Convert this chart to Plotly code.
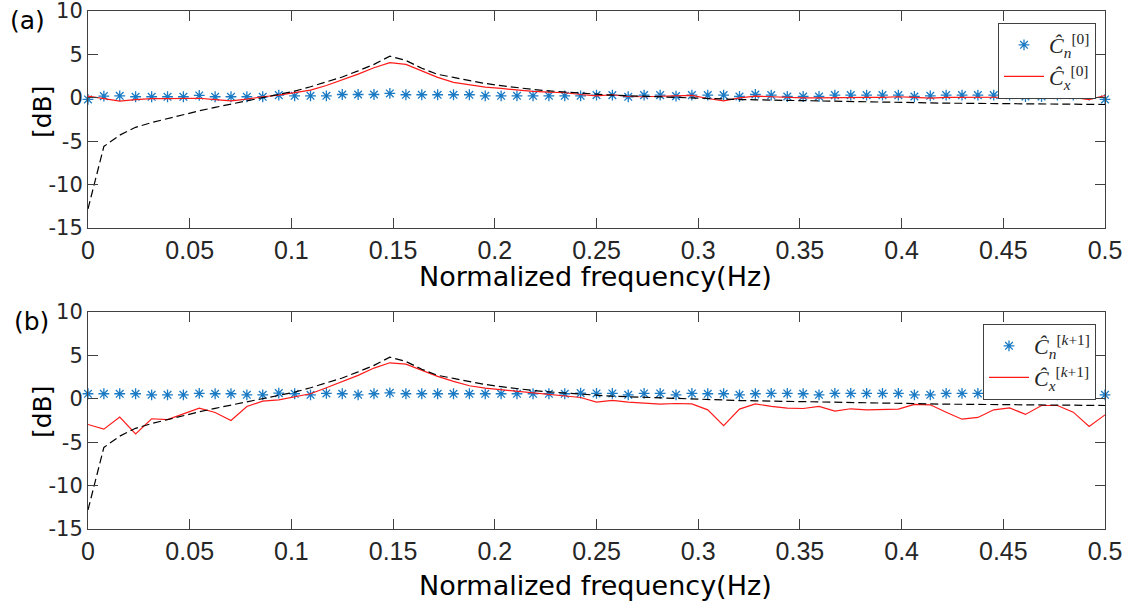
import plotly.graph_objects as go

# ---------------- data ----------------
freq = [0, 0.0078, 0.0156, 0.0234, 0.0313, 0.0391, 0.0469, 0.0547, 0.0625, 0.0703,
        0.0781, 0.0859, 0.0938, 0.1016, 0.1094, 0.1172, 0.125, 0.1328, 0.1406, 0.1484,
        0.1563, 0.1641, 0.1719, 0.1797, 0.1875, 0.1953, 0.2031, 0.2109, 0.2188, 0.2266,
        0.2344, 0.2422, 0.25, 0.2578, 0.2656, 0.2734, 0.2813, 0.2891, 0.2969, 0.3047,
        0.3125, 0.3203, 0.3281, 0.3359, 0.3438, 0.3516, 0.3594, 0.3672, 0.375, 0.3828,
        0.3906, 0.3984, 0.4063, 0.4141, 0.4219, 0.4297, 0.4375, 0.4453, 0.4531, 0.4609,
        0.4688, 0.4766, 0.4844, 0.4922, 0.5]

true_db = [-12.8, -5.6, -4.3, -3.4, -2.85, -2.4, -1.9, -1.5, -1.1, -0.73,
           -0.35, 0.05, 0.4, 0.77, 1.27, 1.8, 2.4, 3.1, 3.85, 4.8,
           4.3, 3.4, 2.7, 2.35, 1.96, 1.65, 1.4, 1.15, 0.96, 0.8,
           0.7, 0.55, 0.42, 0.3, 0.23, 0.15, 0.08, 0.0, -0.05, -0.1,
           -0.15, -0.2, -0.23, -0.27, -0.3, -0.35, -0.38, -0.42, -0.46, -0.5,
           -0.52, -0.54, -0.57, -0.6, -0.62, -0.63, -0.65, -0.67, -0.69, -0.71,
           -0.73, -0.73, -0.75, -0.77, -0.77]

cn0 = [-0.19, 0.19, 0.23, 0.12, 0.12, 0.12, 0.12, 0.27, 0.12, 0.12,
       0.12, 0.12, 0.31, 0.23, 0.23, 0.23, 0.38, 0.38, 0.38, 0.5,
       0.35, 0.35, 0.35, 0.35, 0.35, 0.23, 0.23, 0.23, 0.23, 0.23,
       0.23, 0.23, 0.31, 0.31, 0.12, 0.31, 0.31, 0.19, 0.31, 0.31,
       0.31, 0.15, 0.38, 0.31, 0.15, 0.15, 0.15, 0.31, 0.31, 0.31,
       0.31, 0.31, 0.15, 0.23, 0.31, 0.31, 0.31, 0.31, 0.31, 0.15,
       0.15, 0.31, 0.31, 0.31, -0.19]

cx0 = [0.2, -0.08, -0.38, -0.2, -0.1, -0.1, -0.1, -0.05, -0.2, -0.35,
       -0.15, 0.12, 0.3, 0.58, 0.88, 1.42, 2.04, 2.73, 3.46, 4.04,
       3.85, 3.1, 2.35, 1.77, 1.46, 1.23, 1.08, 0.88, 0.73, 0.65,
       0.58, 0.38, 0.23, 0.35, 0.15, 0.12, 0.19, 0.23, 0.27, -0.08,
       -0.35, 0.0, 0.2, 0.12, 0.04, 0.0, 0.0, 0.04, 0.04, 0.04,
       0.04, 0.12, 0.04, -0.04, 0.04, 0.04, 0.12, 0.12, 0.08, 0.15,
       0.12, 0.12, 0.04, -0.2, 0.27]

cn1 = [0.58, 0.58, 0.58, 0.58, 0.46, 0.46, 0.46, 0.62, 0.58, 0.58,
       0.46, 0.46, 0.65, 0.58, 0.46, 0.62, 0.58, 0.46, 0.58, 0.69,
       0.58, 0.58, 0.58, 0.58, 0.58, 0.58, 0.58, 0.58, 0.58, 0.58,
       0.58, 0.65, 0.62, 0.62, 0.46, 0.62, 0.62, 0.46, 0.62, 0.58,
       0.58, 0.46, 0.58, 0.62, 0.62, 0.58, 0.46, 0.62, 0.62, 0.62,
       0.62, 0.62, 0.46, 0.46, 0.62, 0.62, 0.62, 0.62, 0.62, 0.62,
       0.62, 0.46, 0.62, 0.62, 0.46]

cx1 = [-2.96, -3.5, -2.1, -4.04, -2.3, -2.4, -1.73, -1.08, -1.58, -2.5,
       -0.88, -0.27, -0.12, 0.19, 0.58, 1.27, 1.96, 2.7, 3.54, 4.15,
       4.0, 3.3, 2.58, 2.0, 1.5, 1.23, 1.04, 0.85, 0.65, 0.46,
       0.27, 0.15, -0.38, -0.19, -0.38, -0.5, -0.62, -0.54, -0.58, -1.27,
       -3.1, -1.19, -0.58, -0.88, -1.08, -1.12, -0.88, -1.42, -1.15, -1.27,
       -1.27, -1.19, -0.65, -0.69, -1.54, -2.35, -2.15, -1.27, -1.04, -1.8,
       -0.77, -0.77, -1.54, -3.19, -1.85]

x_tickvals = [0, 0.05, 0.1, 0.15, 0.2, 0.25, 0.3, 0.35, 0.4, 0.45, 0.5]
x_ticktext = ["0", "0.05", "0.1", "0.15", "0.2", "0.25", "0.3", "0.35", "0.4", "0.45", "0.5"]
y_tickvals = [-15, -10, -5, 0, 5, 10]
y_ticktext = ["-15", "-10", "-5", "0", "5", "10"]

legend_top = ["<i>Ĉ</i><sub><i>n</i></sub><sup>[0]</sup>",
              "<i>Ĉ</i><sub><i>x</i></sub><sup>[0]</sup>"]
legend_bot = ["<i>Ĉ</i><sub><i>n</i></sub><sup>[<i>k</i>+1]</sup>",
              "<i>Ĉ</i><sub><i>x</i></sub><sup>[<i>k</i>+1]</sup>"]

# ---------------- style ----------------
W, H = 1128, 603
BLUE = "#1a7ac4"
RED = "#ff1a1a"
AX = "#404040"
xl, xr = 88, 1105          # pixels of plot left/right
top_plot = (11, 228)       # pixels of top plot top/bottom
bot_plot = (312, 529)


def px(p):
    return p / W


def py(p):
    return (H - p) / H


fig = go.Figure()

for (cn, cx, xa, ya, leg, names) in [
    (cn0, cx0, "x", "y", "legend", legend_top),
    (cn1, cx1, "x2", "y2", "legend2", legend_bot),
]:
    fig.add_trace(go.Scatter(
        x=freq, y=cn, mode="markers", name=names[0], xaxis=xa, yaxis=ya, legend=leg,
        marker=dict(symbol="asterisk-open", size=9, color=BLUE, line=dict(color=BLUE, width=1.3)),
        cliponaxis=False))
    fig.add_trace(go.Scatter(
        x=freq, y=cx, mode="lines", name=names[1], xaxis=xa, yaxis=ya, legend=leg,
        line=dict(color=RED, width=1.2)))
    fig.add_trace(go.Scatter(
        x=freq, y=true_db, mode="lines", showlegend=False, xaxis=xa, yaxis=ya,
        line=dict(color="black", width=1.2, dash="8px,4px")))

xfont = dict(family="Liberation Sans, Arial, sans-serif", size=25, color="#262626")
yfont = dict(family="DejaVu Sans, sans-serif", size=21, color="#262626")

common_x = dict(range=[0, 0.5], tickvals=x_tickvals, ticktext=x_ticktext, tickfont=xfont,
                showline=True, linecolor=AX, linewidth=1, mirror="ticks", ticks="inside",
                ticklen=10, tickcolor=AX, showgrid=False, zeroline=False, automargin=False,
                ticklabeloverflow="allow", domain=[px(xl), px(xr)])
common_y = dict(range=[-15, 10], tickvals=y_tickvals, ticktext=y_ticktext, tickfont=yfont,
                showline=True, linecolor=AX, linewidth=1, mirror="ticks", ticks="inside",
                ticklen=10, tickcolor=AX, showgrid=False, zeroline=False, automargin=False,
                ticklabeloverflow="allow")

leg_common = dict(bgcolor="white", bordercolor=AX, borderwidth=1,
                  font=dict(family="Liberation Serif, DejaVu Serif, serif", size=22, color="#262626"),
                  xanchor="right", yanchor="top", tracegroupgap=0, itemwidth=40)

fig.update_layout(
    width=W, height=H,
    margin=dict(l=0, r=0, t=0, b=0, autoexpand=False),
    paper_bgcolor="white", plot_bgcolor="white",
    xaxis=dict(common_x, anchor="y"),
    yaxis=dict(common_y, anchor="x", domain=[py(top_plot[1]), py(top_plot[0])]),
    xaxis2=dict(common_x, anchor="y2"),
    yaxis2=dict(common_y, anchor="x2", domain=[py(bot_plot[1]), py(bot_plot[0])]),
    legend=dict(leg_common, x=px(1096), y=py(23)),
    legend2=dict(leg_common, x=px(1096), y=py(324)),
)

tfont = dict(family="DejaVu Sans, sans-serif", size=27, color="black")
afont = dict(family="DejaVu Sans, sans-serif", size=25, color="black")
ann = [
    dict(text="(a)", x=px(27), y=py(21), font=afont),
    dict(text="(b)", x=px(31), y=py(321), font=afont),
    dict(text="[dB]", x=px(42), y=py(112), textangle=-90, font=afont),
    dict(text="[dB]", x=px(42), y=py(412), textangle=-90, font=afont),
    dict(text="Normalized frequency(Hz)", x=px(595), y=py(276), font=tfont),
    dict(text="Normalized frequency(Hz)", x=px(595), y=py(585), font=tfont),
]
for a in ann:
    fig.add_annotation(xref="paper", yref="paper", showarrow=False,
                       xanchor="center", yanchor="middle", **a)

fig.write_html("out.html",
               config={"displayModeBar": False},
               post_script="document.body.style.margin='0';document.body.style.overflow='hidden';")
